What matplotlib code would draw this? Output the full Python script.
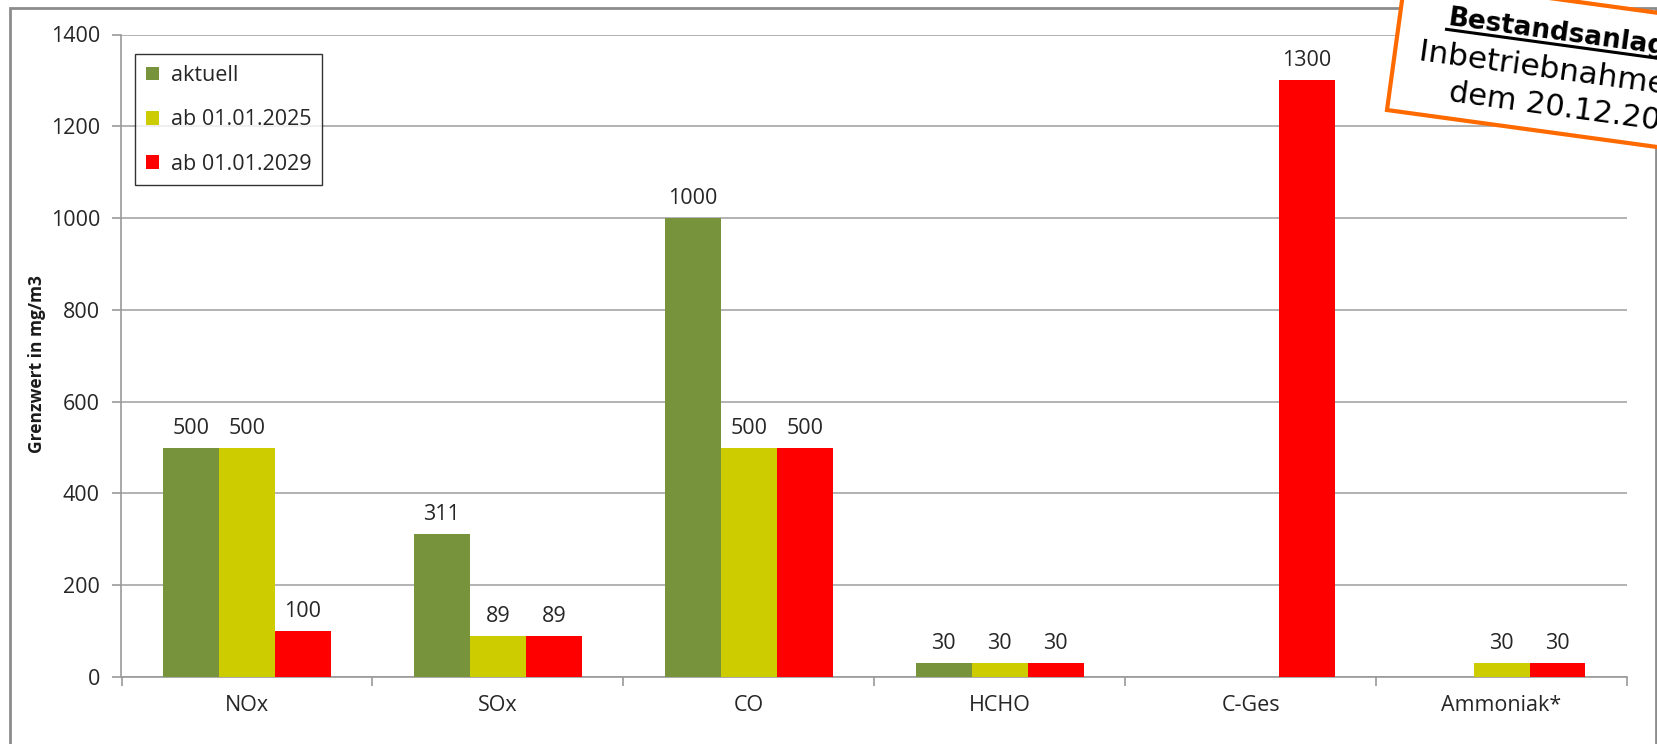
import numpy as np
import matplotlib
matplotlib.use("Agg")
import matplotlib.pyplot as plt
from matplotlib.patches import Rectangle, Patch
from matplotlib.lines import Line2D
from matplotlib.transforms import Affine2D

# Werte aus dem Diagramm (mg/m3), nan = kein Balken
kategorien = ["NOx", "SOx", "CO", "HCHO", "C-Ges", "Ammoniak*"]
aktuell = [500, 311, 1000, 30, np.nan, np.nan]
ab_2025 = [500, 89, 500, 30, np.nan, 30]
ab_2029 = [100, 89, 500, 30, 1300, 30]
serien = ["aktuell", "ab 01.01.2025", "ab 01.01.2029"]
farben = ["#77933C", "#CCCC00", "#FF0000"]
yticks = [0, 200, 400, 600, 800, 1000, 1200, 1400]

stempel_zeilen = ["Bestandsanlagen", "Inbetriebnahme vor", "dem 20.12.2018"]

plt.rcParams["font.family"] = ["Open Sans", "DejaVu Sans"]
fs = 15.5

W, H = 1658, 744
fig = plt.figure(figsize=(W / 100, H / 100), dpi=100)
ax = fig.add_axes([121.5 / W, 1 - 677 / H, (1627 - 121.5) / W, (677 - 34.5) / H])

x = np.arange(len(kategorien))
bw = 0.223
for i, (werte, farbe) in enumerate(zip([aktuell, ab_2025, ab_2029], farben)):
    werte = np.array(werte, dtype=float)
    ok = ~np.isnan(werte)
    bars = ax.bar(x[ok] + (i - 1) * bw, werte[ok], bw, color=farbe, zorder=3)
    ax.bar_label(bars, labels=[f"{v:.0f}" for v in werte[ok]], padding=6.5,
                 fontsize=fs, color="#262626")

ax.set_xlim(-0.5, len(kategorien) - 0.5)
ax.set_ylim(0, 1400)
ax.set_yticks(yticks)
ax.set_yticklabels([str(t) for t in yticks], fontsize=fs, color="#262626")
ax.set_xticks(x)
ax.set_xticklabels(kategorien, fontsize=fs, color="#262626")
ax.set_xticks(np.arange(len(kategorien) + 1) - 0.5, minor=True)
ax.tick_params(axis="x", which="major", length=0, pad=13)
ax.tick_params(axis="x", which="minor", length=6.5, width=1.2, color="#999999", direction="out")
ax.tick_params(axis="y", length=6.5, width=1.2, color="#999999", direction="out", pad=9)
ax.grid(axis="y", color="#a6a6a6", linewidth=1.2, zorder=0)
ax.set_axisbelow(True)
for s in ["top", "right"]:
    ax.spines[s].set_visible(False)
for s in ["left", "bottom"]:
    ax.spines[s].set_color("#999999")
    ax.spines[s].set_linewidth(1.2)

fig.text(37 / W, 1 - 364 / H, "Grenzwert in mg/m3", rotation=90, ha="center", va="center",
         fontsize=12.5, fontweight="bold", color="#1a1a1a")

handles = [Patch(facecolor=f, edgecolor="none") for f in farben]
leg = ax.legend(handles, serien, loc="upper left", bbox_to_anchor=(0.009, 0.969),
                borderaxespad=0, fontsize=fs, frameon=True, fancybox=False,
                handlelength=0.6, handleheight=0.6, handletextpad=0.55,
                labelspacing=1.08, borderpad=0.5)
for t in leg.get_texts():
    t.set_color("#262626")
leg.get_frame().set_edgecolor("black")
leg.get_frame().set_linewidth(1.0)

# grauer Rahmen um das Diagramm
fig.add_artist(Rectangle((10 / W, -0.1), (1656 - 10) / W, (H - 8) / H + 0.1,
                         transform=fig.transFigure, fill=False, edgecolor="#8c8c8c",
                         linewidth=2))

# gedrehter Stempel oben rechts
winkel = -7.8
T = Affine2D().rotate_deg(winkel).translate(1387, H - 110) + Affine2D().scale(1 / W, 1 / H) + fig.transFigure
fig.add_artist(Rectangle((0, 0), 420, 133, transform=T, facecolor="white",
                         edgecolor="#FF6A00", linewidth=3, zorder=10))
fig.text(48, 92, stempel_zeilen[0], transform=T, rotation=winkel, rotation_mode="anchor",
         ha="left", va="baseline", fontsize=19, fontweight="bold", family="DejaVu Sans", zorder=11)
fig.add_artist(Line2D([48, 420], [88, 88], transform=T, color="black", linewidth=2.2, zorder=11))
fig.text(24, 54, stempel_zeilen[1], transform=T, rotation=winkel, rotation_mode="anchor",
         ha="left", va="baseline", fontsize=22.5, family="DejaVu Sans", zorder=11)
fig.text(59, 17, stempel_zeilen[2], transform=T, rotation=winkel, rotation_mode="anchor",
         ha="left", va="baseline", fontsize=22, family="DejaVu Sans", zorder=11)

fig.savefig("out.png", dpi=100, facecolor="white")
